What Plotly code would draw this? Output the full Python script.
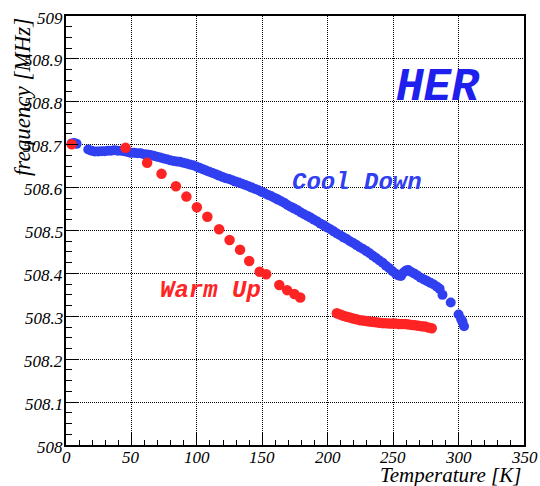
import plotly.graph_objects as go

# Cool Down (blue) series
cool_T = [4.3, 6.2, 8.1, 17.0, 19.5, 22.0, 24.5, 27.0, 29.5, 32.0, 34.5, 37.0, 39.5, 42.0, 44.5,
          47.0, 49.5, 52.0, 54.5, 57.0, 59.5, 62.0, 64.5, 67.0, 69.5, 72.0, 74.5, 77.0, 79.5,
          82.0, 84.5, 87.0, 89.5, 92.0, 94.5, 97.0, 99.5, 102.0, 104.5, 107.0, 109.5, 112.0,
          114.5, 117.0, 119.5, 122.0, 124.5, 127.0, 129.5, 132.0, 134.5, 137.0, 139.5, 142.0,
          144.5, 147.0, 149.5, 152.0, 154.5, 157.0, 159.5, 162.0, 164.5, 167.0, 169.5, 172.0,
          174.5, 177.0, 179.5, 182.0, 184.5, 187.0, 189.5, 192.0, 194.5, 197.0, 199.5, 202.0,
          204.5, 207.0, 209.5, 212.0, 214.5, 217.0, 219.5, 222.0, 224.5, 227.0, 229.5, 232.0,
          234.5, 237.0, 239.5, 242.0, 244.5, 247.0, 249.5, 252.0, 254.0, 256.0, 258.0, 260.0,
          261.5, 263.5, 266.0, 268.5, 271.0, 273.5, 276.0, 278.5, 281.0, 283.5, 285.5, 287.7,
          294.0, 300.0, 302.0, 303.0, 304.2]
cool_f = [508.703, 508.704, 508.702, 508.689, 508.686, 508.684, 508.684, 508.685, 508.685,
          508.686, 508.686, 508.687, 508.686, 508.686, 508.685, 508.683, 508.681, 508.681,
          508.680, 508.680, 508.678, 508.677, 508.676, 508.674, 508.672, 508.670, 508.668,
          508.666, 508.664, 508.662, 508.661, 508.660, 508.658, 508.656, 508.654, 508.652,
          508.649, 508.646, 508.643, 508.640, 508.637, 508.634, 508.631, 508.628, 508.625,
          508.622, 508.620, 508.617, 508.614, 508.612, 508.609, 508.606, 508.603, 508.600,
          508.597, 508.594, 508.590, 508.587, 508.583, 508.580, 508.576, 508.572, 508.568,
          508.564, 508.559, 508.555, 508.551, 508.547, 508.542, 508.538, 508.534, 508.530,
          508.525, 508.521, 508.516, 508.512, 508.507, 508.503, 508.498, 508.493, 508.489,
          508.484, 508.480, 508.475, 508.471, 508.466, 508.461, 508.457, 508.452, 508.447,
          508.441, 508.436, 508.430, 508.425, 508.418, 508.412, 508.405, 508.399, 508.395,
          508.394, 508.402, 508.407, 508.408, 508.404, 508.400, 508.395, 508.390, 508.386,
          508.382, 508.378, 508.374, 508.369, 508.364, 508.350, 508.332, 508.304, 508.293,
          508.287, 508.277]

# Warm Up (red) series
warm_T = [4.3, 45.5, 62.0, 73.0, 84.0, 92.0, 100.0, 108.0, 117.0, 125.0, 133.0, 140.0, 148.0,
          153.0, 163.0, 169.0, 174.5, 179.0,
          207.0, 209.5, 212.0, 214.5, 217.0, 219.5, 222.0, 224.5, 227.0, 229.5, 232.0, 234.5,
          237.0, 239.5, 242.0, 244.5, 247.0, 249.5, 252.0, 254.5, 257.0, 259.5, 262.0, 264.5,
          267.0, 269.5, 272.0, 274.5, 277.0, 279.5]
warm_f = [508.701, 508.693, 508.658, 508.632, 508.603, 508.579, 508.554, 508.532, 508.503,
          508.478, 508.455, 508.429, 508.404, 508.398, 508.373, 508.361, 508.352, 508.344,
          508.307, 508.304, 508.301, 508.299, 508.297, 508.295, 508.293, 508.291, 508.290,
          508.289, 508.288, 508.287, 508.286, 508.285, 508.284, 508.284, 508.283, 508.283,
          508.283, 508.282, 508.282, 508.282, 508.281, 508.280, 508.279, 508.278, 508.277,
          508.276, 508.274, 508.272]

x_ticks = [0, 50, 100, 150, 200, 250, 300, 350]
x_tick_labels = ["0", "50", "100", "150", "200", "250", "300", "350"]
y_ticks = [508, 508.1, 508.2, 508.3, 508.4, 508.5, 508.6, 508.7, 508.8, 508.9, 509]
y_tick_labels = ["508", "508.1", "508.2", "508.3", "508.4", "508.5", "508.6", "508.7",
                 "508.8", "508.9", "509"]

BLUE = "#3040f0"
RED = "#ff2424"
serif = "Liberation Serif"
mono = "Liberation Mono"

fig = go.Figure()
fig.add_trace(go.Scatter(x=cool_T, y=cool_f, mode="markers",
                         marker=dict(color=BLUE, size=10, line=dict(width=0)),
                         showlegend=False))
fig.add_trace(go.Scatter(x=warm_T, y=warm_f, mode="markers",
                         marker=dict(color=RED, size=10.5, line=dict(width=0)),
                         showlegend=False))


def axis(rng, vals, minor_dtick, minor_len, minor_tick0):
    return dict(
        range=rng, tickmode="array", tickvals=vals, showticklabels=False,
        showline=True, linecolor="black", linewidth=2, mirror=True,
        showgrid=True, gridcolor="black", gridwidth=1, griddash="1px,1px",
        ticks="inside", ticklen=12, tickcolor="black", tickwidth=1,
        zeroline=False, automargin=False,
        minor=dict(ticks="inside", ticklen=minor_len, dtick=minor_dtick, tick0=minor_tick0,
                   tickcolor="black", showgrid=False),
    )


xaxis = axis([0, 350], x_ticks, 10, 5, 0)
yaxis = axis([508, 509], y_ticks, 0.025, 6, 508)

tick_font = dict(family=serif, size=17, color="black")
annotations = []
for v, t in zip(x_ticks, x_tick_labels):
    annotations.append(dict(text="<i>" + t + "</i>", x=v, y=0, xref="x", yref="paper",
                            xanchor="center", yanchor="middle", yshift=-12,
                            showarrow=False, font=tick_font))
for v, t in zip(y_ticks, y_tick_labels):
    annotations.append(dict(text="<i>" + t + "</i>", x=0, y=v, xref="paper", yref="y",
                            xanchor="right", yanchor="middle", xshift=-1, yshift=-2,
                            showarrow=False, font=tick_font))

annotations += [
    dict(text="<b><i>HER</i></b>", x=283.7, y=508.832, xref="x", yref="y", showarrow=False,
         font=dict(family=mono, size=46, color="#2020ee")),
    dict(text="<b><i>Cool Down</i></b>", x=222.3, y=508.612, xref="x", yref="y",
         showarrow=False, font=dict(family=mono, size=24, color=BLUE)),
    dict(text="<b><i>Warm Up</i></b>", x=110.6, y=508.36, xref="x", yref="y",
         showarrow=False, font=dict(family=mono, size=24, color=RED)),
    dict(text="<i>frequency [MHz]</i>", x=-0.096, y=1.0, xref="paper", yref="paper",
         xanchor="center", yanchor="top", textangle=-90, showarrow=False,
         font=dict(family=serif, size=23, color="black")),
    dict(text="<i>Temperature [K]</i>", x=0.998, y=-0.069, xref="paper", yref="paper",
         xanchor="right", yanchor="middle", showarrow=False,
         font=dict(family=serif, size=21, color="black")),
]

fig.update_layout(
    width=540, height=486,
    margin=dict(l=66, r=16, t=16, b=41),
    paper_bgcolor="white", plot_bgcolor="white",
    font=dict(family=serif, color="black", size=17),
    xaxis=xaxis, yaxis=yaxis,
    annotations=annotations,
)

fig.write_html("out.html", config={"displayModeBar": False},
               post_script="document.body.style.margin='0';document.body.style.overflow='hidden';")
